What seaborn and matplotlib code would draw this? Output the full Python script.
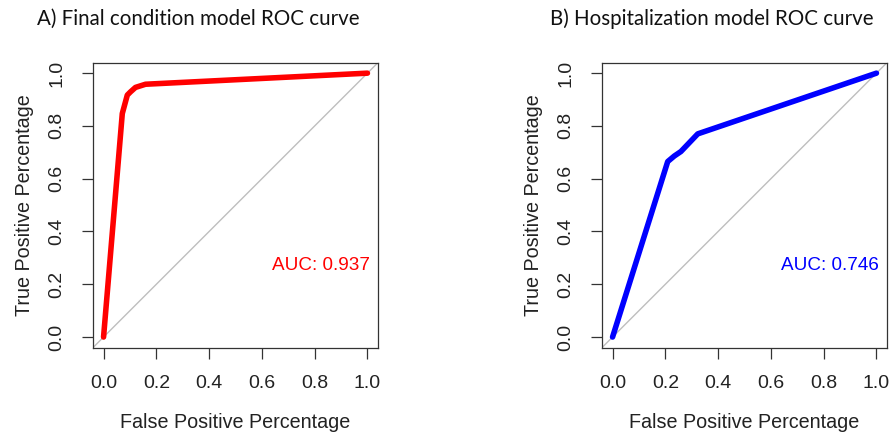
import matplotlib
matplotlib.use("Agg")
import matplotlib.pyplot as plt
import seaborn as sns
import pandas as pd

# Data
fpr_a = [0.0, 0.071, 0.090, 0.102, 0.121, 0.159, 1.0]
tpr_a = [0.0, 0.847, 0.917, 0.929, 0.946, 0.958, 1.0]
fpr_b = [0.0, 0.209, 0.234, 0.259, 0.323, 1.0]
tpr_b = [0.0, 0.665, 0.686, 0.703, 0.770, 1.0]
auc_a = "AUC: 0.937"
auc_b = "AUC: 0.746"
titles = ["A) Final condition model ROC curve", "B) Hospitalization model ROC curve"]
ticks = [0.0, 0.2, 0.4, 0.6, 0.8, 1.0]
tick_labels = ["0.0", "0.2", "0.4", "0.6", "0.8", "1.0"]

sns.set_style("white")
plt.rcParams['font.family'] = ['Liberation Sans', 'DejaVu Sans']

W, H = 893, 436
fig = plt.figure(figsize=(W / 100, H / 100), dpi=100)

def make_ax(left_px):
    return fig.add_axes([left_px / W, (H - 347.6) / H, 285 / W, 285 / H])

ax_a = make_ax(93)
ax_b = make_ax(602)

panels = [
    (ax_a, fpr_a, tpr_a, "#FF0000", auc_a, titles[0], 37),
    (ax_b, fpr_b, tpr_b, "#0000FF", auc_b, titles[1], 550),
]

for ax, fx, ty, col, auc, title, tx in panels:
    df = pd.DataFrame({"fpr": fx, "tpr": ty})
    ax.axline((0, 0), (1, 1), color="#BEBEBE", lw=1.0, zorder=1)
    sns.lineplot(data=df, x="fpr", y="tpr", sort=False, estimator=None,
                 color=col, lw=4.0, ax=ax, zorder=3, solid_capstyle="round")
    ax.set_xlim(-0.04, 1.04)
    ax.set_ylim(-0.04, 1.04)
    ax.set_xticks(ticks)
    ax.set_xticklabels(tick_labels)
    ax.set_yticks(ticks)
    ax.set_yticklabels(tick_labels, rotation=90, va="center")
    ax.tick_params(axis="both", which="both", direction="out", length=8,
                   width=0.9, color="#333333", labelsize=14, pad=12,
                   labelcolor="#222222", bottom=True, left=True)
    for s in ax.spines.values():
        s.set_color("#333333")
        s.set_linewidth(0.9)
    ax.set_xlabel("False Positive Percentage", fontsize=14.2, labelpad=15, color="#222222")
    ax.set_ylabel("True Positive Percentage", fontsize=14.2, labelpad=10, color="#222222")
    ax.text(1.01, 0.27, auc, color=col, ha="right", va="center", fontsize=13.6)
    fig.text(tx / W, 1 - 19 / H, title, ha="left", va="center",
             fontsize=14.8, family=["Lato", "DejaVu Sans"], color="#111111")

fig.savefig("out.png", dpi=100)
